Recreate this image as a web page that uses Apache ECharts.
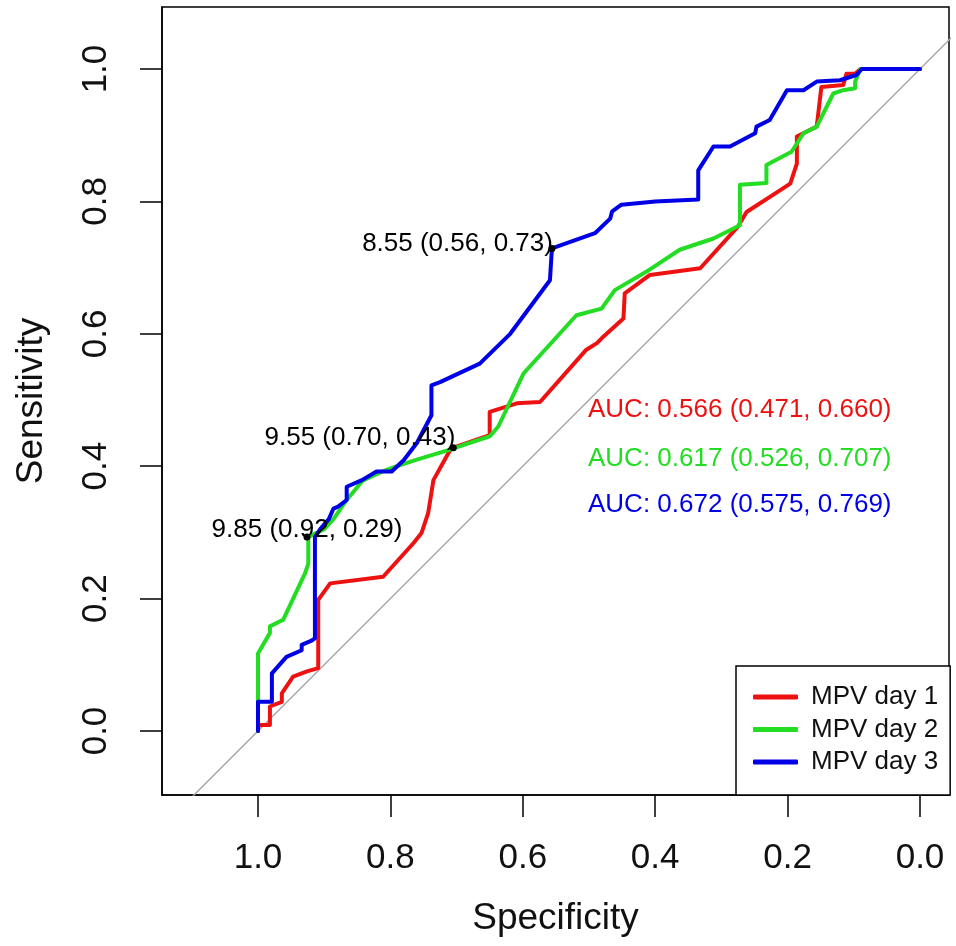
<!DOCTYPE html>
<html>
<head>
<meta charset="utf-8">
<script src="https://cdn.jsdelivr.net/npm/echarts@6/dist/echarts.min.js"></script>
<style>
html,body{margin:0;padding:0;background:#fff;}
#chart{width:956px;height:946px;}
</style>
</head>
<body>
<div id="chart"></div>
<script>
// ---- data (specificity, sensitivity) ----
var seriesNames = ['MPV day 1', 'MPV day 2', 'MPV day 3'];
var day1 = [[1.0,0.0],[0.9995,0.009],[0.982,0.009],[0.982,0.037],[0.964,0.044],[0.964,0.057],[0.947,0.082],[0.926,0.090],[0.909,0.095],[0.909,0.198],[0.891,0.223],[0.811,0.233],[0.765,0.284],[0.753,0.299],[0.743,0.329],[0.735,0.379],[0.710,0.424],[0.705,0.428],[0.650,0.447],[0.650,0.482],[0.609,0.495],[0.574,0.497],[0.504,0.576],[0.488,0.586],[0.478,0.596],[0.448,0.623],[0.446,0.661],[0.408,0.689],[0.332,0.699],[0.275,0.762],[0.262,0.784],[0.211,0.817],[0.196,0.827],[0.186,0.857],[0.186,0.898],[0.156,0.913],[0.149,0.973],[0.116,0.976],[0.111,0.993],[0.098,0.993],[0.090,1.0],[0.0,1.0]];
var day2 = [[1.0,0.0],[1.0,0.117],[0.982,0.148],[0.982,0.158],[0.962,0.168],[0.929,0.238],[0.924,0.253],[0.924,0.293],[0.900,0.305],[0.886,0.320],[0.866,0.349],[0.842,0.378],[0.812,0.392],[0.790,0.400],[0.760,0.410],[0.710,0.425],[0.690,0.432],[0.650,0.445],[0.637,0.460],[0.599,0.540],[0.519,0.628],[0.481,0.638],[0.461,0.666],[0.413,0.694],[0.363,0.727],[0.312,0.744],[0.272,0.764],[0.272,0.825],[0.232,0.828],[0.232,0.855],[0.194,0.875],[0.176,0.903],[0.156,0.913],[0.131,0.963],[0.116,0.968],[0.098,0.971],[0.098,0.981],[0.090,1.0],[0.0,1.0]];
var day3 = [[1.0,0.0],[1.0,0.044],[0.979,0.044],[0.979,0.087],[0.957,0.112],[0.934,0.122],[0.934,0.130],[0.920,0.136],[0.914,0.140],[0.914,0.293],[0.906,0.305],[0.893,0.320],[0.886,0.336],[0.879,0.339],[0.866,0.349],[0.866,0.369],[0.843,0.379],[0.821,0.392],[0.798,0.392],[0.780,0.409],[0.760,0.435],[0.738,0.477],[0.738,0.522],[0.725,0.527],[0.665,0.555],[0.619,0.600],[0.559,0.681],[0.556,0.729],[0.491,0.752],[0.468,0.774],[0.465,0.785],[0.451,0.795],[0.400,0.800],[0.335,0.803],[0.335,0.847],[0.312,0.883],[0.287,0.883],[0.249,0.903],[0.247,0.913],[0.227,0.923],[0.201,0.968],[0.176,0.968],[0.156,0.981],[0.121,0.983],[0.096,0.991],[0.088,1.0],[0.0,1.0]];
var diagonal = [[1.3,-0.3],[-0.3,1.3]];
var threshPoints = [[0.926,0.293],[0.705,0.428],[0.556,0.729]];
var threshLabels = ['9.85 (0.92, 0.29)', '9.55 (0.70, 0.43)', '8.55 (0.56, 0.73)'];
var aucTexts = ['AUC: 0.566 (0.471, 0.660)', 'AUC: 0.617 (0.526, 0.707)', 'AUC: 0.672 (0.575, 0.769)'];
var tickValues = [0, 0.2, 0.4, 0.6, 0.8, 1.0];
var xName = 'Specificity';
var yName = 'Sensitivity';

var colors = ['#ee1111', '#22dd22', '#0000e6'];
var FONT = "'Liberation Sans', Arial, sans-serif";

var chart = echarts.init(document.getElementById('chart'), null, {renderer: 'canvas'});

function curve(name, data, color) {
  return {
    name: name, type: 'line', data: data, showSymbol: false, symbol: 'none',
    lineStyle: {color: color, width: 4, cap: 'round', join: 'round'},
    itemStyle: {color: color}, animation: false, z: 3
  };
}

var labelCfg = [
  {align: 'center', offset: [0, -7]},
  {align: 'right', offset: [2, -10]},
  {align: 'right', offset: [1, -5]}
];

var threshData = threshPoints.map(function (p, i) {
  return {
    value: p,
    label: {
      show: true, formatter: threshLabels[i], position: [3.5, 3.5],
      align: labelCfg[i].align, verticalAlign: 'middle', offset: labelCfg[i].offset,
      fontSize: 26, fontFamily: FONT, color: '#000', opacity: 1, textBorderWidth: 0
    }
  };
});

var option = {
  animation: false,
  backgroundColor: '#fff',
  grid: {left: 162, top: 7, right: 7, bottom: 151, show: true, borderColor: '#000', borderWidth: 1.5, backgroundColor: 'transparent'},
  xAxis: {
    type: 'value', inverse: true, min: -0.0438, max: 1.145,
    name: xName, nameLocation: 'middle', nameGap: 105,
    nameTextStyle: {fontSize: 37, fontFamily: FONT, color: '#111'},
    axisLine: {show: true, onZero: false, lineStyle: {color: '#000', width: 1.5}},
    axisTick: {show: true, inside: false, length: 22, customValues: tickValues, lineStyle: {color: '#000', width: 1.5}},
    axisLabel: {show: true, customValues: tickValues, margin: 46, fontSize: 35, fontFamily: FONT, color: '#111',
      formatter: function (v) { return v.toFixed(1); }},
    splitLine: {show: false}
  },
  yAxis: {
    type: 'value', min: -0.0967, max: 1.0937,
    name: yName, nameLocation: 'middle', nameGap: 112, nameRotate: 90,
    nameTextStyle: {fontSize: 37, fontFamily: FONT, color: '#111'},
    axisLine: {show: true, onZero: false, lineStyle: {color: '#000', width: 1.5}},
    axisTick: {show: true, inside: false, length: 22, customValues: tickValues, lineStyle: {color: '#000', width: 1.5}},
    axisLabel: {show: true, customValues: tickValues, rotate: 90, margin: 48, fontSize: 35, fontFamily: FONT, color: '#111',
      formatter: function (v) { return v.toFixed(1); }},
    splitLine: {show: false}
  },
  legend: {
    orient: 'vertical', left: 736, top: 666,
    data: seriesNames,
    padding: [18, 12, 20, 17],
    itemGap: 6.5, itemWidth: 45, itemHeight: 5, icon: 'roundRect',
    borderColor: '#000', borderWidth: 1.5, backgroundColor: '#fff',
    textStyle: {fontSize: 26, fontFamily: FONT, color: '#111', lineHeight: 26, padding: [0, 0, 0, 8]},
    z: 10
  },
  series: [
    {name: 'diag', type: 'line', data: diagonal, symbol: 'none', clip: true,
      lineStyle: {color: '#a8a8a8', width: 1.5}, z: 1, silent: true},
    curve(seriesNames[0], day1, colors[0]),
    curve(seriesNames[1], day2, colors[1]),
    curve(seriesNames[2], day3, colors[2]),
    {name: 'thresholds', type: 'scatter', data: threshData, symbol: 'circle', symbolSize: 7,
      itemStyle: {color: '#000', opacity: 1}, z: 5}
  ],
  graphic: aucTexts.map(function (t, i) {
    return {
      type: 'text', left: 588, top: [397, 446, 492][i], z: 20,
      style: {text: t, fill: colors[i], font: '26px ' + FONT}
    };
  })
};
chart.setOption(option);
</script>
</body>
</html>
